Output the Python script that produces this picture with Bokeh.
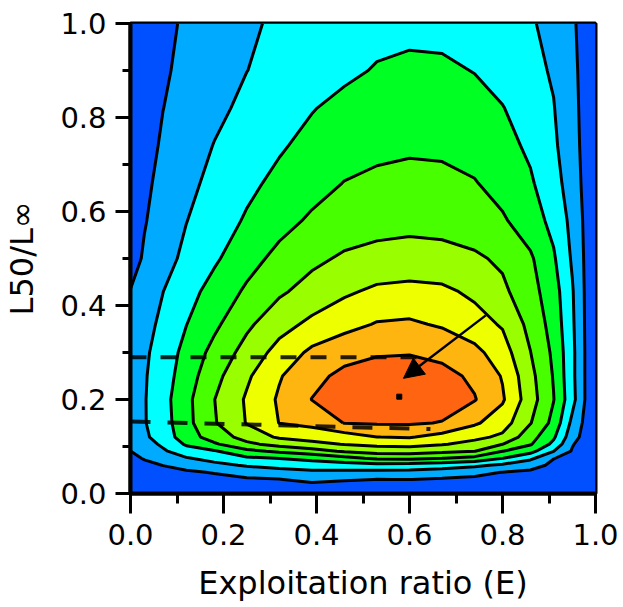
import numpy as np
from bokeh.plotting import figure
from bokeh.models import Range1d, FixedTicker, Arrow, NormalHead
from bokeh.embed import file_html
from bokeh.resources import INLINE

# ---- data ----
# exploitation ratio (E) grid columns
expl_ratio = [0.0, 0.03, 0.07, 0.12, 0.18, 0.25, 0.32, 0.39, 0.46, 0.53,
              0.60, 0.67, 0.74, 0.80, 0.86, 0.91, 0.95, 0.98, 1.0]
# L50/Loo grid rows
l50_ratio = [0.0, 0.03, 0.045, 0.06, 0.075, 0.09, 0.105, 0.12, 0.15, 0.20,
             0.25, 0.30, 0.36, 0.43, 0.50, 0.58, 0.66, 0.74, 0.82, 0.90, 1.0]

# relative yield-per-recruit isopleth values (in contour-class units), one row per L50/Loo
ypr_c000 = [0.2, 0.2, 0.2, 0.2, 0.2, 0.2, 0.2, 0.2, 0.2, 0.2, 0.2, 0.2, 0.2, 0.2, 0.2, 0.2, 0.2, 0.2, 0.2]
ypr_c030 = [0.46, 0.53, 0.6, 0.65, 0.75, 0.87, 0.97, 1.23, 1.09, 0.99, 1.01, 0.89, 0.8, 0.72, 0.64, 0.52, 0.44, 0.3, 0.2]
ypr_c045 = [0.6, 0.69, 0.8, 0.88, 1.05, 1.41, 1.64, 1.81, 1.77, 1.71, 1.68, 1.5, 1.28, 0.98, 0.85, 0.68, 0.56, 0.35, 0.2]
ypr_c060 = [0.73, 0.86, 1.01, 1.29, 1.73, 2.1, 2.32, 2.48, 2.56, 2.69, 2.62, 2.45, 2.2, 1.82, 1.29, 0.84, 0.68, 0.4, 0.2]
ypr_c075 = [0.86, 1.04, 1.43, 1.92, 2.33, 2.85, 3.02, 3.29, 3.7, 4.18, 4.2, 4.02, 3.7, 3.02, 2.23, 1.02, 0.8, 0.45, 0.2]
ypr_c090 = [0.99, 1.3, 1.86, 2.57, 2.89, 3.75, 4.17, 4.56, 5.13, 5.38, 5.44, 5.24, 5.02, 4.02, 3.33, 2.02, 0.92, 0.5, 0.2]
ypr_c105 = [1.25, 1.57, 2.18, 3.13, 3.86, 4.79, 5.33, 5.79, 6.03, 6.25, 6.32, 6.07, 5.68, 5.02, 4.1, 2.75, 1.07, 0.55, 0.25]
ypr_c120 = [1.5, 1.83, 2.45, 3.53, 4.45, 5.37, 6.14, 6.32, 6.52, 6.99, 7.08, 6.63, 6.24, 5.8, 4.4, 3.15, 1.4, 0.6, 0.3]
ypr_c150 = [1.6, 1.94, 2.57, 3.69, 4.91, 6.05, 7.02, 7.3, 8.03, 8.09, 8.1, 7.96, 7.14, 6.46, 5.05, 3.7, 1.75, 0.7, 0.3]
ypr_c200 = [1.6, 1.94, 2.64, 3.73, 4.98, 6.12, 7.13, 8.02, 8.37, 8.56, 8.59, 8.43, 8.06, 7.12, 5.44, 4.03, 2.33, 0.86, 0.3]
ypr_c250 = [1.55, 1.91, 2.54, 3.5, 4.69, 5.84, 6.92, 7.72, 8.24, 8.45, 8.49, 8.31, 7.81, 6.93, 5.29, 3.93, 2.25, 0.86, 0.3]
ypr_c300 = [1.45, 1.83, 2.45, 3.3, 4.31, 5.37, 6.36, 7.21, 7.66, 7.90, 7.94, 7.74, 7.28, 6.46, 5.02, 3.81, 2.25, 0.86, 0.3]
ypr_c360 = [1.3, 1.68, 2.22, 2.98, 3.79, 4.81, 5.63, 6.23, 6.68, 7.07, 7.14, 6.89, 6.39, 5.9, 4.71, 3.61, 2.17, 0.84, 0.3]
ypr_c430 = [1.03, 1.42, 1.99, 2.63, 3.36, 4.15, 4.85, 5.37, 5.84, 6.19, 6.3, 6.2, 5.8, 5.2, 4.37, 3.43, 2.09, 0.82, 0.3]
ypr_c500 = [0.6, 1.12, 1.64, 2.23, 2.85, 3.63, 4.28, 4.78, 5.14, 5.30, 5.35, 5.30, 5.15, 4.83, 4.14, 3.12, 1.88, 0.8, 0.3]
ypr_c580 = [0.3, 0.94, 1.42, 1.98, 2.51, 3.11, 3.67, 4.15, 4.46, 4.66, 4.75, 4.70, 4.47, 4.13, 3.47, 2.72, 1.73, 0.75, 0.3]
ypr_c660 = [0.25, 0.80, 1.28, 1.75, 2.26, 2.78, 3.24, 3.64, 4.03, 4.21, 4.3, 4.26, 4.06, 3.62, 3.12, 2.4, 1.5, 0.7, 0.25]
ypr_c740 = [0.2, 0.64, 1.13, 1.55, 2.03, 2.46, 2.89, 3.28, 3.58, 3.76, 3.85, 3.81, 3.61, 3.31, 2.83, 2.17, 1.37, 0.67, 0.2]
ypr_c820 = [0.2, 0.54, 0.99, 1.35, 1.78, 2.21, 2.58, 2.95, 3.26, 3.46, 3.55, 3.51, 3.32, 3.04, 2.5, 2.04, 1.29, 0.66, 0.2]
ypr_c900 = [0.2, 0.49, 0.88, 1.23, 1.58, 1.99, 2.27, 2.54, 2.81, 3.07, 3.19, 3.16, 2.97, 2.62, 2.26, 1.9, 1.23, 0.64, 0.2]
ypr_c1000 = [0.2, 0.45, 0.78, 1.13, 1.46, 1.84, 2.17, 2.41, 2.58, 2.70, 2.75, 2.72, 2.59, 2.40, 2.12, 1.65, 1.14, 0.61, 0.2]

contour_levels = [0, 1, 2, 3, 4, 5, 6, 7, 8, 9]
band_colors = ["#0050FF", "#00AAFF", "#00FFFF", "#00FF22", "#48FF00",
               "#99FF00", "#EEFF00", "#FFB510", "#FF6410"]

# annotations
upper_dash_E = [0.0, 0.62]
upper_dash_L = [0.29, 0.29]
lower_dash_E = [0.0, 0.645]
lower_dash_L = [0.153, 0.137]
arrow_tail = (0.764, 0.379)
arrow_tip = (0.587, 0.245)
optimum_E = [0.578]
optimum_L = [0.206]

tick_values = [0.0, 0.2, 0.4, 0.6, 0.8, 1.0]
tick_labels = ["0.0", "0.2", "0.4", "0.6", "0.8", "1.0"]
minor_values = [0.1, 0.3, 0.5, 0.7, 0.9]

Z = np.array([ypr_c000, ypr_c030, ypr_c045, ypr_c060, ypr_c075, ypr_c090,
              ypr_c105, ypr_c120, ypr_c150, ypr_c200, ypr_c250, ypr_c300,
              ypr_c360, ypr_c430, ypr_c500, ypr_c580, ypr_c660, ypr_c740,
              ypr_c820, ypr_c900, ypr_c1000])

p = figure(width=623, height=607, x_range=Range1d(0, 1), y_range=Range1d(0, 1),
           output_backend="svg", toolbar_location=None,
           min_border_left=128, min_border_right=28,
           min_border_top=23, min_border_bottom=114,
           background_fill_color="white", border_fill_color="white")

p.contour(np.array(expl_ratio), np.array(l50_ratio), Z, contour_levels,
          fill_color=band_colors, line_color="black", line_width=3)

p.line(upper_dash_E, upper_dash_L, line_color="black", line_width=4,
       line_dash="16 14", line_alpha=0.85)
p.line(lower_dash_E, lower_dash_L, line_color="black", line_width=4,
       line_dash="20 17", line_alpha=0.85)

p.add_layout(Arrow(end=NormalHead(size=20, fill_color="black", line_color="black"),
                   x_start=arrow_tail[0], y_start=arrow_tail[1],
                   x_end=arrow_tip[0], y_end=arrow_tip[1],
                   line_color="black", line_width=2.5))
p.scatter(optimum_E, optimum_L, marker="square", size=5, color="black")

p.grid.visible = False
p.outline_line_color = "black"
p.outline_line_width = 4

for ax in (p.xaxis[0], p.yaxis[0]):
    ax.ticker = FixedTicker(ticks=tick_values, minor_ticks=minor_values)
    ax.major_label_overrides = {v: s for v, s in zip(tick_values, tick_labels)}
    ax.axis_line_width = 4
    ax.major_tick_line_width = 3
    ax.minor_tick_line_width = 3
    ax.major_tick_in = 0
    ax.minor_tick_in = 0
    ax.major_label_text_font = "DejaVu Sans"
    ax.major_label_text_font_size = "29px"
    ax.major_label_text_color = "black"
    ax.axis_label_text_font = "DejaVu Sans"
    ax.axis_label_text_font_size = "32px"
    ax.axis_label_text_font_style = "normal"
    ax.axis_label_text_color = "black"

p.xaxis.axis_label = "Exploitation ratio (E)"
p.yaxis.axis_label = "L50/L\u221e"
p.xaxis.major_tick_out = 20
p.xaxis.minor_tick_out = 10
p.yaxis.major_tick_out = 15
p.yaxis.minor_tick_out = 8
p.xaxis.major_label_standoff = 10
p.yaxis.major_label_standoff = 9
p.xaxis.axis_label_standoff = 16
p.yaxis.axis_label_standoff = 16

open("out.html", "w").write(file_html(p, INLINE))
